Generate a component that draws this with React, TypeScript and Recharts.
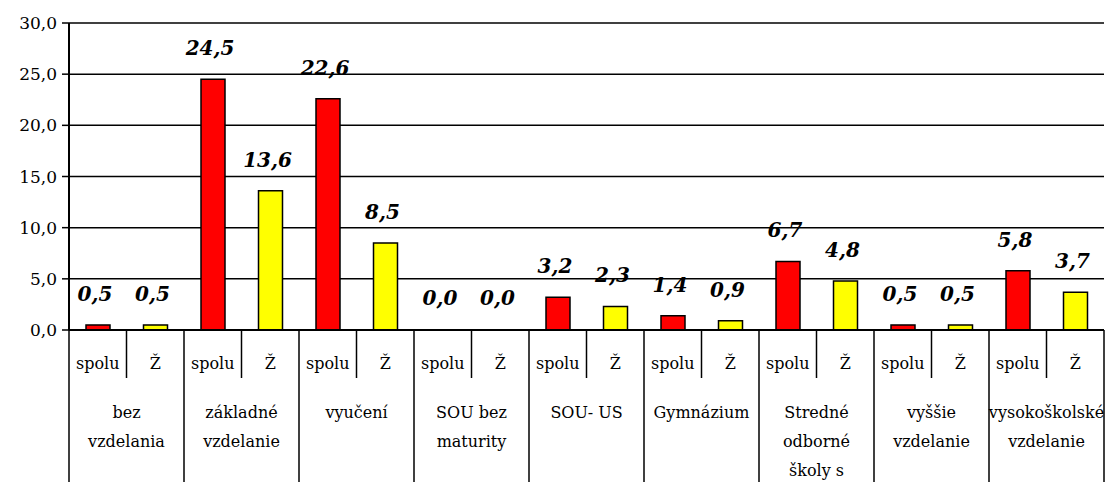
import { Bar, BarChart, CartesianGrid, Cell, LabelList, XAxis, YAxis } from "recharts";

const skupiny = [
  ["bez", "vzdelania"],
  ["základné", "vzdelanie"],
  ["vyučení"],
  ["SOU bez", "maturity"],
  ["SOU- US"],
  ["Gymnázium"],
  ["Stredné", "odborné", "školy s"],
  ["vyššie", "vzdelanie"],
  ["vysokoškolské", "vzdelanie"],
];
const spolu = [0.5, 24.5, 22.6, 0.0, 3.2, 1.4, 6.7, 0.5, 5.8];
const zeny = [0.5, 13.6, 8.5, 0.0, 2.3, 0.9, 4.8, 0.5, 3.7];
const podkategorie = ["spolu", "Ž"];
const yTicks = [0, 5, 10, 15, 20, 25, 30];

const data = skupiny.flatMap((g, i) => [
  { sub: podkategorie[0], group: g, value: spolu[i], idx: 0 },
  { sub: podkategorie[1], group: g, value: zeny[i], idx: 1 },
]);

const W = 1115;
const H = 482;
const LEFT = 69;
const RIGHT = 11;
const TOP = 23;
const BOTTOM = 152;
const band = (W - LEFT - RIGHT) / data.length;
const FONT = "DejaVu Serif";

const fmt = (v: number) => v.toFixed(1).replace(".", ",");

// dvojúrovňová os x: spolu/Ž + skupina vzdelania
function XTick(props: any) {
  const { x, payload } = props;
  const y = H - BOTTOM;
  const row = data[payload.index];
  const left = x - band / 2;
  const isLast = payload.index === data.length - 1;
  return (
    <g>
      <line
        x1={left}
        x2={left}
        y1={y}
        y2={row.idx === 0 ? H : y + 48}
        stroke="#000"
        strokeWidth={1.5}
      />
      {isLast && <line x1={x + band / 2} x2={x + band / 2} y1={y} y2={H} stroke="#000" strokeWidth={1.5} />}
      <text x={x} y={y + 39} textAnchor="middle" fontFamily={FONT} fontSize={16} fill="#000">
        {row.sub}
      </text>
      {row.idx === 0 &&
        row.group.map((line: string, k: number) => (
          <text
            key={k}
            x={x + band / 2}
            y={y + 88 + k * 29}
            textAnchor="middle"
            fontFamily={FONT}
            fontSize={16}
            fill="#000"
          >
            {line}
          </text>
        ))}
    </g>
  );
}

function YTick(props: any) {
  const { x, y, payload } = props;
  return (
    <text x={x - 3} y={y + 6} textAnchor="end" fontFamily={FONT} fontSize={17} fill="#000">
      {fmt(Number(payload.value))}
    </text>
  );
}

function ValueLabel(props: any) {
  const { x, y, width, height, value } = props;
  const top = Math.min(y, y + height);
  return (
    <text
      x={x + width / 2 - 3}
      y={top - 24}
      textAnchor="middle"
      fontFamily={FONT}
      fontSize={20}
      fontWeight="bold"
      fontStyle="italic"
      fill="#000"
    >
      {fmt(Number(value))}
    </text>
  );
}

export default function App() {
  return (
    <div style={{ position: "absolute", left: 0, top: 0, width: W, height: H, background: "#fff", fontFamily: FONT }}>
      <BarChart
        width={W}
        height={H}
        data={data}
        margin={{ top: TOP, right: RIGHT, left: 0, bottom: 0 }}
        barCategoryGap="0%"
      >
        <CartesianGrid vertical={false} stroke="#000" strokeWidth={1.5} />
        <XAxis
          dataKey="sub"
          interval={0}
          height={BOTTOM}
          axisLine={{ stroke: "#000", strokeWidth: 2 }}
          tickLine={false}
          tick={<XTick />}
        />
        <YAxis
          width={LEFT}
          domain={[0, 30]}
          ticks={yTicks}
          axisLine={{ stroke: "#000", strokeWidth: 2 }}
          tickLine={{ stroke: "#000", strokeWidth: 1.5 }}
          tickSize={7}
          tick={<YTick />}
        />
        <Bar dataKey="value" barSize={24} minPointSize={1} isAnimationActive={false}>
          {data.map((d, i) => (
            <Cell
              key={i}
              fill={d.value === 0 ? "none" : d.idx === 0 ? "#FF0000" : "#FFFF00"}
              stroke={d.value === 0 ? "none" : "#000"}
              strokeWidth={1.5}
            />
          ))}
          <LabelList dataKey="value" content={<ValueLabel />} />
        </Bar>
      </BarChart>
    </div>
  );
}
